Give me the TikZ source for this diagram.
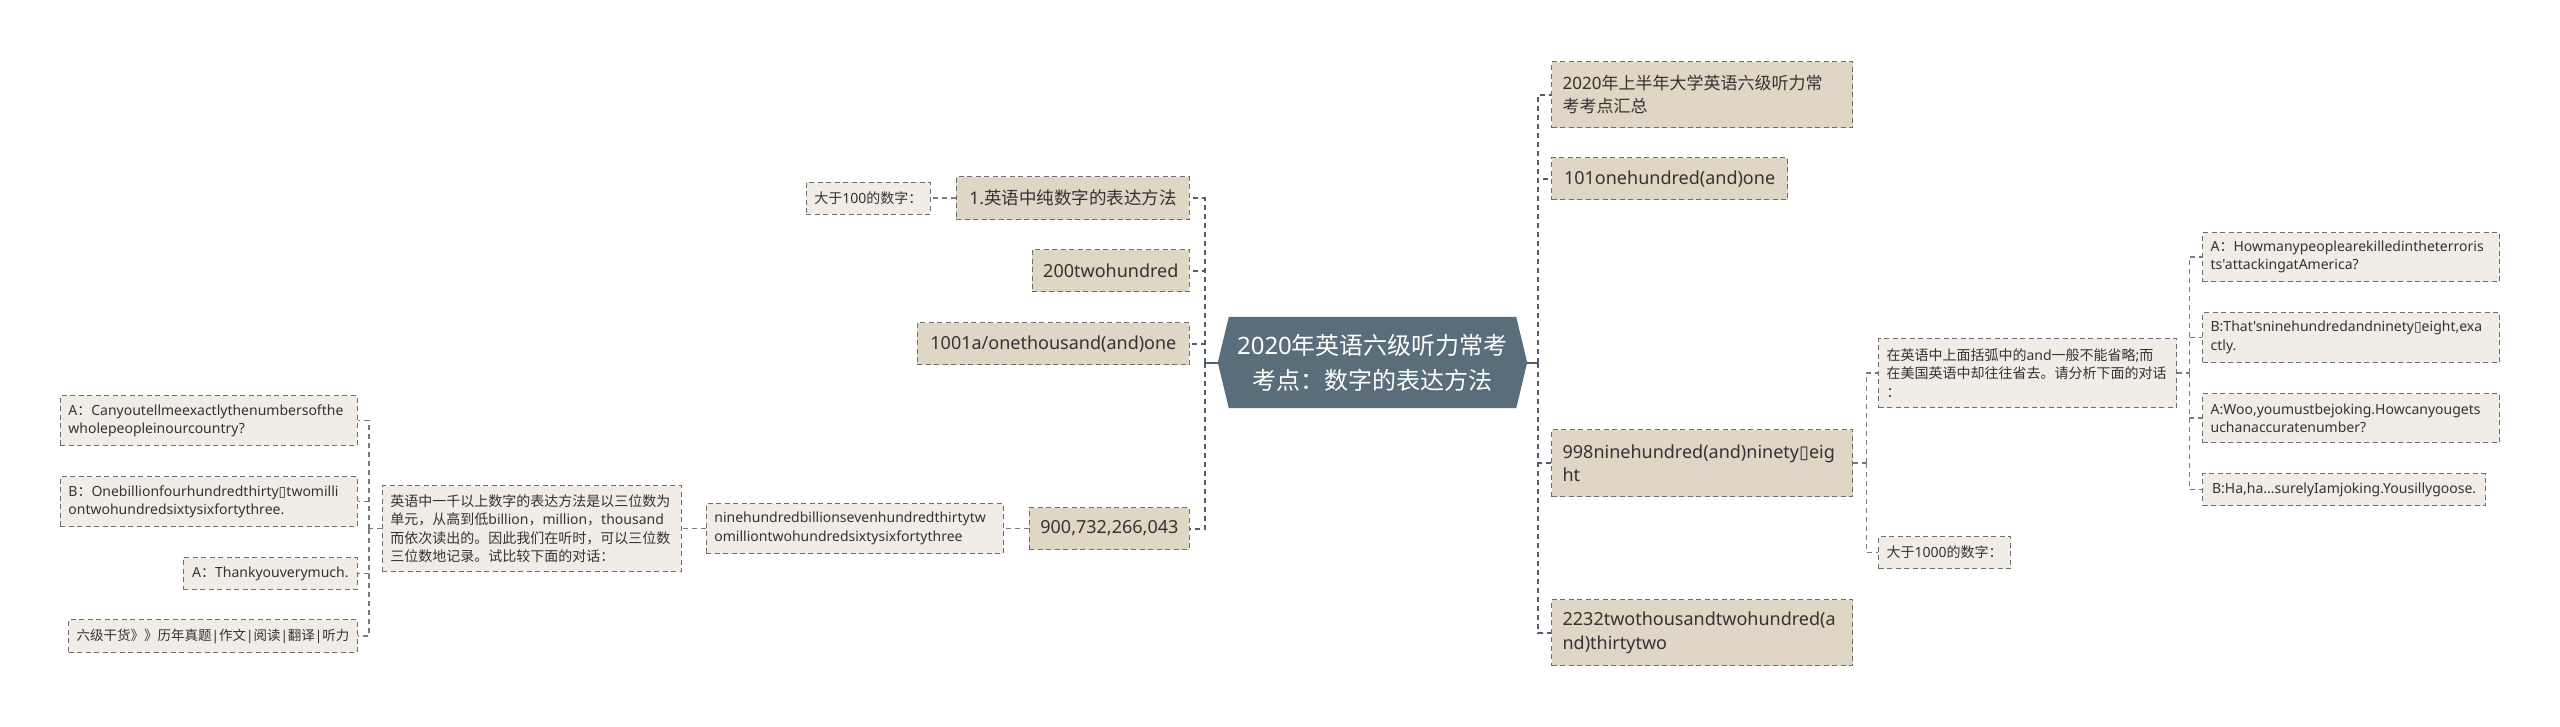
\documentclass[tikz,border=0pt]{standalone}
\usepackage{fontspec}
\setmainfont{Noto Sans}
\newfontfamily\latf{Noto Sans}
\newfontfamily\cjkf{Noto Sans CJK SC}
\newfontfamily\dejavu{DejaVu Sans}
\newcommand\tofu{{\dejavu ▯}}
\usetikzlibrary{calc}
\hyphenpenalty=10000
\exhyphenpenalty=10000
\XeTeXinterchartokenstate=1
\chardef\cjkcls=10
\makeatletter
\def\setcjkrange#1#2{\count@=#1\relax
  \loop\XeTeXcharclass\count@=\cjkcls\relax
  \ifnum\count@<#2\relax\advance\count@\@ne\repeat}
\makeatother
\setcjkrange{"2E80}{"9FFF}
\setcjkrange{"FF00}{"FFEF}
\XeTeXinterchartoks 0 \cjkcls={\cjkf}
\XeTeXinterchartoks 4095 \cjkcls={\cjkf}
\XeTeXinterchartoks \cjkcls 0={\latf}
\definecolor{rootc}{HTML}{5A6D7A}
\definecolor{lonec}{HTML}{E0D6C6}
\definecolor{ltwoc}{HTML}{F1EDE6}
\definecolor{bordc}{HTML}{6E6E6E}
\definecolor{mainc}{HTML}{4F5E6A}
\definecolor{subc}{HTML}{7A7A7A}
\definecolor{txtc}{HTML}{333333}
\pgfdeclarelayer{bg}
\pgfsetlayers{bg,main}
\tikzset{
  box/.style={draw=bordc, line width=1.2pt, dash pattern=on 5pt off 3.5pt, text=txtc, inner ysep=2pt},
  lone/.style={box, fill=lonec, inner xsep=11pt, font=\latf\fontsize{18}{23.5}\selectfont},
  ltwo/.style={box, fill=ltwoc, inner xsep=8pt, font=\latf\fontsize{14}{18.5}\selectfont},
  rootn/.style={text=white, inner sep=0pt, align=center, font=\latf\fontsize{24}{35}\selectfont},
  mainln/.style={draw=mainc, line width=2pt, dash pattern=on 5pt off 4pt},
  mainsolid/.style={draw=mainc, line width=2pt},
  subln/.style={draw=subc, line width=1.4pt, dash pattern=on 5pt off 4pt},
}
\begin{document}
\begin{tikzpicture}[x=1pt, y=-1pt]
\begin{pgfonlayer}{bg}
\fill[white] (0,0) rectangle (2560,726);
\end{pgfonlayer}
\useasboundingbox (0,0) rectangle (2560,726);

% root
\node[rootn, minimum width=287pt, minimum height=91pt] (root) at (1372.5,362.5) {2020年英语六级听力常考\\考点：数字的表达方法};
\coordinate (rootL) at ($(root.west)+(-11,0)$);
\coordinate (rootR) at ($(root.east)+(11,0)$);
\begin{pgfonlayer}{bg}
\fill[rootc] (root.north west) -- (root.north east) -- (rootR) -- (root.south east) -- (root.south west) -- (rootL) -- cycle;
\end{pgfonlayer}

% left level 1
\node[lone, anchor=north east, minimum width=233pt, minimum height=43pt, font=\latf\fontsize{17.5}{23}\selectfont] (l1a) at (1190,176) {1.英语中纯数字的表达方法};
\node[lone, anchor=north east, minimum width=156pt, minimum height=42pt] (l1b) at (1190,249) {200twohundred};
\node[lone, anchor=north east, minimum width=272pt, minimum height=42pt] (l1c) at (1190,322) {1001a/onethousand(and)one};
\node[lone, anchor=north east, minimum width=158pt, minimum height=42pt] (l1d) at (1190,507) {900,732,266,043};

% left level 2
\node[ltwo, anchor=north east, minimum width=124pt, minimum height=32pt] (l2a) at (931,181.5) {大于100的数字：};
\node[ltwo, anchor=north east, minimum height=50pt, text width=281pt, align=left] (l2b) at (1004,503) {ninehundredbillionsevenhundredthirtytw\\omilliontwohundredsixtysixfortythree};
\node[ltwo, anchor=north east, minimum height=86pt, text width=283pt, align=left] (l2c) at (682,485) {英语中一千以上数字的表达方法是以三位数为\\单元，从高到低billion，million，thousand\\而依次读出的。因此我们在听时，可以三位数\\三位数地记录。试比较下面的对话：};

% left level 3
\node[ltwo, anchor=north east, minimum height=50pt, text width=281pt, align=left] (l3a) at (358,395) {A：Canyoutellmeexactlythenumbersofthe\\wholepeopleinourcountry?};
\node[ltwo, anchor=north east, minimum height=50pt, text width=281pt, align=left] (l3b) at (358,476) {B：Onebillionfourhundredthirty\tofu twomilli\\ontwohundredsixtysixfortythree.};
\node[ltwo, anchor=north east, minimum width=174pt, minimum height=32pt] (l3c) at (358,557) {A：Thankyouverymuch.};
\node[ltwo, anchor=north east, minimum width=285pt, minimum height=33pt, font=\latf\fontsize{13.5}{18}\selectfont] (l3d) at (358,619) {六级干货》》历年真题|作文|阅读|翻译|听力};

% right level 1
\node[lone, anchor=north west, minimum height=66pt, text width=279pt, align=left, font=\latf\fontsize{17}{23.5}\selectfont] (r1a) at (1551,61) {2020年上半年大学英语六级听力常\\考考点汇总};
\node[lone, anchor=north west, minimum width=236pt, minimum height=42pt] (r1b) at (1551,157) {101onehundred(and)one};
\node[lone, anchor=north west, minimum height=67pt, text width=279pt, align=left] (r1c) at (1551,429) {998ninehundred(and)ninety\tofu eig\\ht};
\node[lone, anchor=north west, minimum height=66pt, text width=279pt, align=left] (r1d) at (1551,599) {2232twothousandtwohundred(a\\nd)thirtytwo};

% right level 2
\node[ltwo, anchor=north west, minimum height=69pt, text width=282pt, align=left] (r2a) at (1878,338) {在英语中上面括弧中的and一般不能省略;而\\在美国英语中却往往省去。请分析下面的对话\\：};
\node[ltwo, anchor=north west, minimum width=132pt, minimum height=32pt] (r2b) at (1878,536) {大于1000的数字：};

% right level 3
\node[ltwo, anchor=north west, minimum height=49pt, text width=281pt, align=left] (r3a) at (2202,232) {A：Howmanypeoplearekilledintheterroris\\ts'attackingatAmerica?};
\node[ltwo, anchor=north west, minimum height=50pt, text width=281pt, align=left] (r3b) at (2202,312) {B:That'sninehundredandninety\tofu eight,exa\\ctly.};
\node[ltwo, anchor=north west, minimum height=49pt, text width=281pt, align=left] (r3c) at (2202,393) {A:Woo,youmustbejoking.Howcanyougets\\uchanaccuratenumber?};
\node[ltwo, anchor=north west, minimum width=283pt, minimum height=32pt] (r3d) at (2202,473) {B:Ha,ha...surelyIamjoking.Yousillygoose.};

% main connectors
\coordinate (jL) at ($(rootL)+(-13,0)$);
\coordinate (jR) at ($(rootR)+(11,0)$);
\draw[mainsolid] (rootL) -- (jL);
\draw[mainsolid] (rootR) -- (jR);
\foreach \n in {l1a,l1b,l1c,l1d} \draw[mainln] (jL) |- (\n.east);
\foreach \n in {r1a,r1b,r1c,r1d} \draw[mainln] (jR) |- (\n.west);

% sub connectors left
\draw[subln] (l1a.west) -- (l2a.east);
\draw[subln] (l1d.west) -- (l2b.east);
\draw[subln] (l2b.west) -- (l2c.east);
\coordinate (jl2) at ($(l2c.west)+(-13,0)$);
\draw[subln] (l2c.west) -- (jl2);
\foreach \n in {l3a,l3b,l3c,l3d} \draw[subln] (jl2) |- (\n.east);

% sub connectors right
\coordinate (jr1) at ($(r1c.east)+(13,0)$);
\draw[subln] (r1c.east) -- (jr1);
\foreach \n in {r2a,r2b} \draw[subln] (jr1) |- (\n.west);
\coordinate (jr2) at ($(r2a.east)+(12,0)$);
\draw[subln] (r2a.east) -- (jr2);
\foreach \n in {r3a,r3b,r3c,r3d} \draw[subln] (jr2) |- (\n.west);
\end{tikzpicture}
\end{document}
